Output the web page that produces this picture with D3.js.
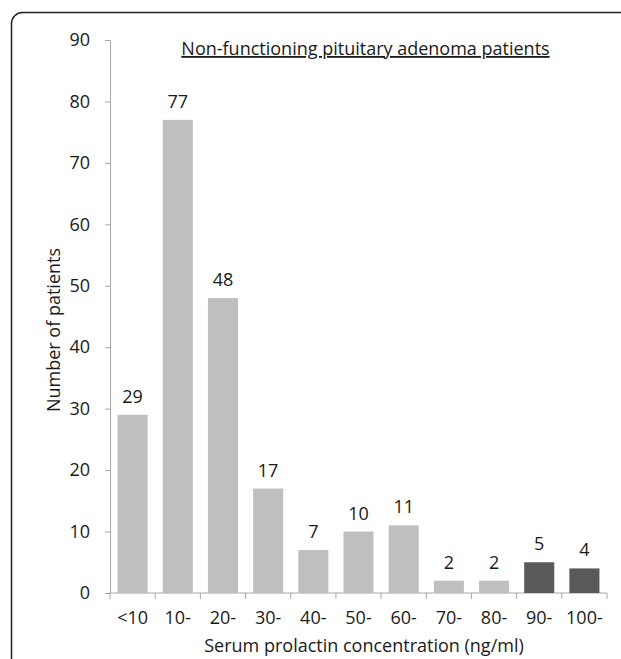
<!DOCTYPE html>
<html><head><meta charset="utf-8">
<script src="https://d3js.org/d3.v7.min.js"></script>
<style>body{margin:0;background:#fff}svg{display:block}text{font-family:"Open Sans",sans-serif;fill:#1a1a1a}</style>
</head><body>
<svg id="c" width="621" height="659"></svg>
<script>
const categories = ["<10","10-","20-","30-","40-","50-","60-","70-","80-","90-","100-"];
const counts = [29,77,48,17,7,10,11,2,2,5,4];
const highlighted = [false,false,false,false,false,false,false,false,false,true,true];
const yTicks = [0,10,20,30,40,50,60,70,80,90];
const title = "Non-functioning pituitary adenoma patients";
const xTitle = "Serum prolactin concentration (ng/ml)";
const yTitle = "Number of patients";

(function(){
const svg = d3.select("#c");
svg.append("rect").attr("x",11.5).attr("y",12.5).attr("width",640).attr("height",680)
  .attr("rx",11).attr("fill","none").attr("stroke","#222").attr("stroke-width",1.5);

const mL=110, mR=607, mT=40, mB=593;
const x = d3.scaleBand().domain(categories).range([mL,mR]).paddingInner(0.335).paddingOuter(0.1675);
const y = d3.scaleLinear().domain([0,90]).range([mB,mT]);
const fs = 18;

const yAx = svg.append("g").attr("transform",`translate(${mL},0)`)
  .call(d3.axisLeft(y).tickValues(yTicks).tickSize(5).tickPadding(15));
yAx.select(".domain").attr("stroke","#a6a6a6");
yAx.selectAll(".tick line").attr("stroke","#a6a6a6");
yAx.selectAll("text").attr("font-size",fs).style("font-family","'Open Sans',sans-serif").attr("fill","#1a1a1a");

const band = x.step();
const xAx = svg.append("g").attr("transform",`translate(0,${mB})`);
xAx.append("line").attr("x1",mL).attr("x2",mR).attr("stroke","#a6a6a6");
xAx.selectAll("line.t").data(d3.range(categories.length+1)).join("line").attr("class","t")
  .attr("x1",i=>mL+i*band).attr("x2",i=>mL+i*band).attr("y1",0).attr("y2",6).attr("stroke","#a6a6a6");
xAx.selectAll("text").data(categories).join("text")
  .attr("x",d=>x(d)+x.bandwidth()/2).attr("y",31).attr("text-anchor","middle").attr("font-size",fs).text(d=>d);

svg.selectAll("rect.bar").data(categories).join("rect").attr("class","bar")
  .attr("x",d=>x(d)).attr("width",x.bandwidth())
  .attr("y",(d,i)=>y(counts[i])).attr("height",(d,i)=>y(0)-y(counts[i]))
  .attr("fill",(d,i)=>highlighted[i]?"#595959":"#bfbfbf");

svg.selectAll("text.val").data(categories).join("text").attr("class","val")
  .attr("x",d=>x(d)+x.bandwidth()/2).attr("y",(d,i)=>y(counts[i])-12)
  .attr("text-anchor","middle").attr("font-size",fs).text((d,i)=>counts[i]);

svg.append("text").attr("x",365.5).attr("y",55).attr("text-anchor","middle")
  .attr("font-size",fs).attr("text-decoration","underline").text(title);

svg.append("text").attr("x",364).attr("y",652).attr("text-anchor","middle").attr("font-size",fs).text(xTitle);
svg.append("text").attr("transform","translate(60,330) rotate(-90)").attr("text-anchor","middle").attr("font-size",fs).text(yTitle);
})();
</script>
</body></html>
